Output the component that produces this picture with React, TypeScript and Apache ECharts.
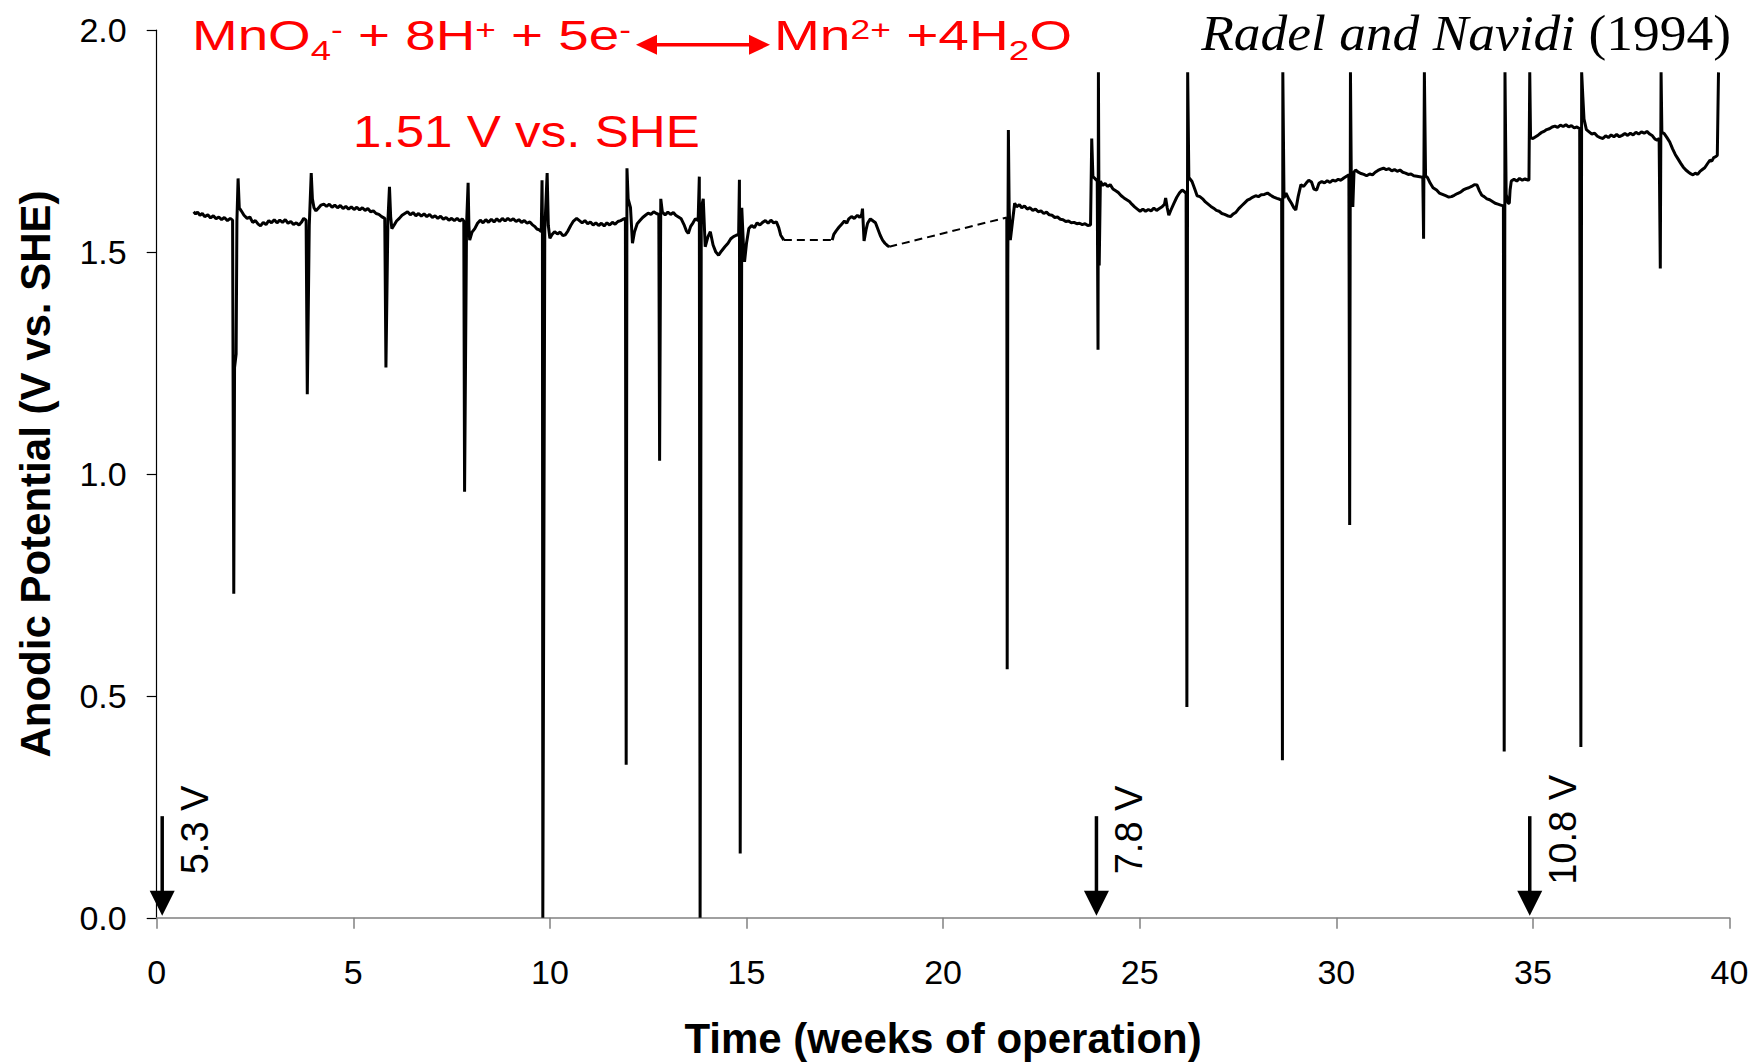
import React, { useEffect, useRef } from "react";
import * as echarts from "echarts";

// ---------------- data ----------------
const xTickValues = [0, 5, 10, 15, 20, 25, 30, 35, 40];
const yTickValues = [0, 0.5, 1.0, 1.5, 2.0];

// measured anodic potential, weeks 0.9 - 16
const phase1Trace: [number, number][] = [
  [0.94,1.591],[0.99,1.586],[1.04,1.59],[1.1,1.583],[1.16,1.587],[1.22,1.58],[1.3,1.584],[1.37,1.577],[1.44,1.582],[1.51,1.575],[1.58,1.579],[1.65,1.573],[1.72,1.578],[1.8,1.571],[1.87,1.576],[1.93,1.572],
  [1.96,0.73],[1.98,1.24],[2.02,1.27],[2.04,1.57],[2.07,1.666],[2.1,1.6],[2.15,1.593],[2.22,1.583],[2.3,1.576],[2.37,1.579],[2.44,1.567],[2.51,1.571],[2.58,1.563],[2.64,1.559],[2.71,1.567],[2.78,1.562],[2.85,1.571],[2.92,1.566],[2.99,1.573],[3.06,1.566],[3.13,1.572],[3.2,1.567],[3.27,1.573],[3.34,1.565],[3.41,1.569],[3.48,1.562],[3.55,1.566],[3.62,1.561],[3.68,1.567],[3.74,1.576],[3.8,1.572],
  [3.83,1.18],[3.88,1.56],[3.93,1.678],[3.96,1.62],[4.0,1.6],[4.05,1.593],[4.11,1.599],[4.18,1.606],[4.25,1.608],[4.32,1.603],[4.39,1.608],[4.46,1.601],[4.53,1.606],[4.6,1.6],[4.67,1.605],[4.74,1.598],[4.81,1.603],[4.88,1.597],[4.95,1.602],[5.02,1.596],[5.09,1.601],[5.16,1.595],[5.23,1.6],[5.3,1.594],[5.37,1.598],[5.44,1.591],[5.51,1.593],[5.58,1.587],[5.65,1.585],[5.72,1.58],[5.8,1.576],
  [5.83,1.24],[5.88,1.57],[5.92,1.647],[5.95,1.58],[5.98,1.553],[6.04,1.561],[6.1,1.57],[6.17,1.576],[6.24,1.583],[6.31,1.587],[6.38,1.591],[6.45,1.584],[6.52,1.589],[6.59,1.582],[6.66,1.587],[6.73,1.581],[6.8,1.586],[6.87,1.58],[6.94,1.585],[7.01,1.578],[7.08,1.582],[7.15,1.576],[7.22,1.581],[7.29,1.574],[7.36,1.578],[7.43,1.572],[7.5,1.576],[7.57,1.571],[7.64,1.576],[7.71,1.57],[7.77,1.575],[7.81,1.57],
  [7.83,0.96],[7.88,1.56],[7.92,1.656],[7.94,1.56],[7.96,1.527],[8.02,1.545],[8.09,1.553],[8.16,1.565],[8.23,1.572],[8.3,1.566],[8.37,1.573],[8.44,1.567],[8.51,1.574],[8.58,1.568],[8.65,1.575],[8.72,1.569],[8.79,1.576],[8.86,1.57],[8.93,1.576],[9.0,1.571],[9.07,1.575],[9.14,1.569],[9.21,1.573],[9.28,1.567],[9.35,1.571],[9.42,1.565],[9.49,1.568],[9.55,1.562],[9.61,1.558],[9.67,1.552],[9.73,1.55],[9.78,1.546],
  [9.8,1.662],[9.81,1.55],[9.82,0.0],[9.87,1.55],[9.93,1.678],[9.96,1.56],[10.0,1.531],[10.06,1.54],[10.12,1.546],[10.19,1.541],[10.26,1.545],[10.33,1.537],[10.39,1.539],[10.46,1.548],[10.53,1.56],[10.6,1.57],[10.68,1.576],[10.75,1.571],[10.82,1.566],[10.89,1.571],[10.96,1.564],[11.03,1.568],[11.1,1.561],[11.17,1.566],[11.24,1.56],[11.31,1.565],[11.38,1.559],[11.45,1.566],[11.52,1.561],[11.59,1.567],[11.66,1.563],[11.73,1.569],[11.8,1.571],[11.86,1.574],[11.92,1.576],
  [11.94,0.345],[11.96,1.689],[11.99,1.62],[12.05,1.6],[12.1,1.52],[12.15,1.545],[12.22,1.564],[12.29,1.571],[12.36,1.578],[12.43,1.583],[12.5,1.588],[12.57,1.585],[12.64,1.591],[12.71,1.587],[12.77,1.585],
  [12.79,1.03],[12.82,1.62],[12.86,1.59],[12.93,1.584],[13.0,1.59],[13.07,1.585],[13.14,1.589],[13.2,1.583],[13.27,1.579],[13.34,1.575],[13.41,1.562],[13.47,1.548],[13.52,1.542],[13.58,1.558],[13.64,1.566],[13.7,1.575],[13.77,1.571],
  [13.8,1.67],[13.82,0.0],[13.85,1.6],[13.9,1.62],[13.95,1.512],[14.02,1.535],[14.08,1.546],[14.15,1.516],[14.22,1.5],[14.29,1.493],[14.36,1.502],[14.45,1.512],[14.53,1.52],[14.6,1.53],[14.67,1.535],[14.74,1.538],[14.8,1.54],
  [14.82,1.663],[14.84,0.145],[14.88,1.6],[14.92,1.52],[14.95,1.478],[15.0,1.52],[15.06,1.553],[15.13,1.56],[15.2,1.555],[15.27,1.566],[15.34,1.561],[15.41,1.567],[15.48,1.571],[15.55,1.565],[15.62,1.572],[15.69,1.566],[15.76,1.568],[15.82,1.555],[15.87,1.538],[15.95,1.527],
];

// measured, weeks 17.2 - 18.6
const phase2Trace: [number, number][] = [
  [17.18,1.527],[17.22,1.54],[17.28,1.548],[17.35,1.556],[17.42,1.563],[17.49,1.57],[17.55,1.565],[17.6,1.575],[17.67,1.58],[17.74,1.576],[17.82,1.583],[17.88,1.578],[17.93,1.585],[17.95,1.598],[17.99,1.525],[18.04,1.55],[18.08,1.565],[18.15,1.575],[18.22,1.57],[18.28,1.566],[18.34,1.552],[18.4,1.538],[18.46,1.527],[18.52,1.52],[18.58,1.515],[18.63,1.512],
];

// measured, weeks 21.6 - 39.7
const phase3Trace: [number, number][] = [
  [21.62,1.578],[21.63,0.56],[21.645,1.45],[21.66,1.775],[21.68,1.6],[21.71,1.527],[21.76,1.565],[21.82,1.61],[21.87,1.602],[21.94,1.607],[22.0,1.6],[22.07,1.604],[22.14,1.597],[22.21,1.6],[22.28,1.594],[22.35,1.597],[22.42,1.591],[22.49,1.593],[22.56,1.587],[22.63,1.59],[22.7,1.584],[22.77,1.583],[22.84,1.578],[22.91,1.579],[22.98,1.574],[23.05,1.573],[23.12,1.569],[23.19,1.57],[23.26,1.566],[23.33,1.567],[23.4,1.564],[23.47,1.565],[23.54,1.562],[23.61,1.564],[23.68,1.56],[23.75,1.561],
  [23.78,1.756],[23.81,1.67],[23.86,1.666],[23.92,1.66],[23.94,1.28],[23.95,1.905],[23.97,1.47],[24.0,1.66],[24.06,1.65],[24.12,1.655],[24.18,1.648],[24.25,1.652],[24.32,1.642],[24.39,1.638],[24.46,1.634],[24.53,1.627],[24.6,1.622],[24.67,1.618],[24.74,1.614],[24.8,1.608],[24.87,1.602],[24.94,1.597],[25.01,1.592],[25.08,1.597],[25.15,1.592],[25.22,1.596],[25.29,1.593],[25.36,1.599],[25.43,1.594],[25.5,1.598],[25.57,1.602],[25.63,1.608],[25.66,1.622],[25.7,1.6],[25.74,1.583],[25.8,1.596],[25.87,1.61],[25.94,1.623],[26.01,1.633],[26.08,1.64],[26.14,1.636],[26.18,1.632],
  [26.2,0.475],[26.22,1.905],[26.25,1.668],[26.33,1.659],[26.4,1.642],[26.46,1.627],[26.53,1.625],[26.6,1.62],[26.67,1.613],[26.74,1.608],[26.81,1.603],[26.88,1.599],[26.95,1.594],[27.02,1.592],[27.09,1.587],[27.16,1.585],[27.23,1.582],[27.31,1.58],[27.38,1.586],[27.45,1.59],[27.52,1.598],[27.6,1.605],[27.67,1.611],[27.74,1.617],[27.81,1.62],[27.88,1.624],[27.95,1.627],[28.02,1.625],[28.09,1.629],[28.17,1.63],[28.25,1.633],[28.33,1.628],[28.41,1.624],[28.49,1.621],[28.56,1.619],[28.61,1.617],
  [28.63,0.355],[28.64,1.905],[28.67,1.622],[28.72,1.633],[28.79,1.62],[28.86,1.61],[28.92,1.6],[28.97,1.595],[29.03,1.625],[29.1,1.652],[29.17,1.648],[29.24,1.656],[29.3,1.662],[29.37,1.658],[29.43,1.642],[29.5,1.64],[29.56,1.655],[29.63,1.659],[29.7,1.656],[29.77,1.661],[29.84,1.657],[29.91,1.662],[29.98,1.66],[30.05,1.664],[30.12,1.662],[30.19,1.667],[30.26,1.671],[30.32,1.674],
  [30.34,0.885],[30.36,1.905],[30.38,1.68],[30.42,1.602],[30.45,1.68],[30.49,1.685],[30.56,1.68],[30.63,1.677],[30.7,1.675],[30.77,1.672],[30.85,1.676],[30.92,1.674],[30.99,1.68],[31.06,1.684],[31.13,1.687],[31.2,1.689],[31.27,1.686],[31.34,1.688],[31.41,1.683],[31.48,1.686],[31.55,1.682],[31.62,1.685],[31.69,1.68],[31.76,1.678],[31.83,1.675],[31.9,1.676],[31.97,1.672],[32.05,1.671],[32.12,1.67],[32.2,1.668],
  [32.22,1.53],[32.24,1.905],[32.27,1.672],[32.32,1.668],[32.39,1.655],[32.46,1.645],[32.55,1.64],[32.62,1.633],[32.7,1.63],[32.78,1.627],[32.86,1.624],[32.93,1.625],[33.0,1.628],[33.08,1.632],[33.16,1.635],[33.23,1.64],[33.3,1.643],[33.37,1.645],[33.44,1.648],[33.51,1.652],[33.58,1.651],[33.64,1.638],[33.7,1.628],[33.76,1.625],[33.83,1.62],[33.9,1.618],[33.97,1.614],[34.04,1.61],[34.11,1.608],[34.18,1.606],[34.25,1.604],
  [34.27,0.375],[34.29,1.905],[34.32,1.63],[34.37,1.61],[34.4,1.61],[34.42,1.64],[34.45,1.66],[34.52,1.664],[34.59,1.66],[34.66,1.666],[34.73,1.662],[34.8,1.665],[34.87,1.662],[34.9,1.663],
  [34.92,1.905],[34.94,1.758],[35.0,1.756],[35.07,1.76],[35.14,1.764],[35.21,1.769],[35.28,1.772],[35.35,1.776],[35.42,1.778],[35.49,1.782],[35.56,1.784],[35.63,1.781],[35.7,1.786],[35.77,1.783],[35.84,1.787],[35.91,1.782],[35.98,1.785],[36.05,1.78],[36.12,1.782],[36.19,1.778],
  [36.22,0.385],[36.24,1.905],[36.27,1.85],[36.3,1.8],[36.36,1.776],[36.43,1.771],[36.5,1.766],[36.57,1.768],[36.64,1.761],[36.71,1.758],[36.78,1.756],[36.85,1.762],[36.92,1.758],[36.99,1.764],[37.06,1.76],[37.13,1.765],[37.2,1.76],[37.27,1.763],[37.34,1.767],[37.41,1.763],[37.48,1.768],[37.55,1.764],[37.62,1.77],[37.69,1.766],[37.76,1.771],[37.83,1.768],[37.9,1.772],[37.97,1.766],[38.04,1.762],[38.1,1.755],[38.16,1.752],[38.21,1.756],
  [38.24,1.463],[38.26,1.905],[38.28,1.77],[38.34,1.767],[38.41,1.758],[38.48,1.748],[38.55,1.733],[38.62,1.72],[38.69,1.71],[38.76,1.7],[38.82,1.692],[38.89,1.685],[38.96,1.68],[39.02,1.676],[39.07,1.674],[39.13,1.678],[39.19,1.675],[39.25,1.682],[39.31,1.686],[39.37,1.69],[39.43,1.698],[39.5,1.707],[39.55,1.705],[39.6,1.713],[39.65,1.715],[39.69,1.718],[39.72,1.905],
];

// dashed bridges over periods without data
const gapBridge1: [number, number][] = [[15.95,1.527],[17.18,1.527]];
const gapBridge2: [number, number][] = [[18.63,1.512],[21.62,1.578]];

// applied voltage changes (arrows on the time axis)
const voltageWeeks = [0.14, 23.9, 34.92];
const voltageLabels = ["5.3 V", "7.8 V", "10.8 V"];
const arrowTopValue = 0.229;
const arrowLabelValue = 0.198;

// texts
const xAxisTitle = "Time (weeks of operation)";
const yAxisTitle = "Anodic Potential (V vs. SHE)";
const citationItalic = "Radel and Navidi ";
const citationYear = "(1994)";
const potentialNote = "1.51 V vs. SHE";
const eqLeftTokens = [
  { t: "MnO", r: "main" }, { t: "4", r: "sub" }, { t: "-", r: "sup" },
  { t: " + 8H", r: "main" }, { t: "+", r: "sup" },
  { t: " + 5e", r: "main" }, { t: "-", r: "sup" },
];
const eqRightTokens = [
  { t: "Mn", r: "main" }, { t: "2+", r: "sup" },
  { t: " +4H", r: "main" }, { t: "2", r: "sub" }, { t: "O", r: "main" },
];

// ---------------- rendering ----------------
const SANS = "'Liberation Sans', Arial, Helvetica, sans-serif";
const SERIF = "'Liberation Serif', 'Times New Roman', Times, serif";
const RED = "#FF0000";

let measureCtx: CanvasRenderingContext2D | null = null;
function measure(text: string, size: number, family: string, style = "normal", weight = "normal") {
  if (!measureCtx) measureCtx = document.createElement("canvas").getContext("2d");
  if (!measureCtx) return text.length * size * 0.55;
  measureCtx.font = `${style} ${weight} ${size}px ${family}`;
  return measureCtx.measureText(text).width;
}

const roleStyle: Record<string, { size: number; baseline: number }> = {
  main: { size: 42, baseline: 50 },
  sub: { size: 28, baseline: 60 },
  sup: { size: 27, baseline: 39.5 },
};

function buildEquationGroup(tokens: { t: string; r: string }[], originX: number, targetWidth: number) {
  let cursor = 0;
  const children: any[] = [];
  tokens.forEach((tk) => {
    const rs = roleStyle[tk.r];
    const w = measure(tk.t, rs.size, SANS);
    children.push({
      type: "text",
      x: cursor,
      y: rs.baseline - 0.3465 * rs.size,
      style: {
        text: tk.t,
        fill: RED,
        fontSize: rs.size,
        fontFamily: SANS,
        align: "left",
        verticalAlign: "middle",
      },
    });
    cursor += w;
  });
  const s = cursor > 0 ? targetWidth / cursor : 1;
  return { type: "group", x: originX, y: 0, scaleX: s, scaleY: 1, children };
}

function buildGraphics(chart: echarts.ECharts) {
  const g: any[] = [];
  // voltage arrows, placed in data coordinates
  voltageWeeks.forEach((wk, i) => {
    const top = chart.convertToPixel({ gridIndex: 0 }, [wk, arrowTopValue]) as number[];
    const base = chart.convertToPixel({ gridIndex: 0 }, [wk, 0]) as number[];
    const lbl = chart.convertToPixel({ gridIndex: 0 }, [wk, arrowLabelValue]) as number[];
    const px = top[0];
    const tip = base[1] - 2;
    const headLen = 25;
    const half = 12.5;
    g.push({
      type: "line",
      shape: { x1: px, y1: top[1], x2: px, y2: tip - headLen + 2 },
      style: { stroke: "#000", lineWidth: 3.5 },
      z: 100,
    });
    g.push({
      type: "polygon",
      shape: { points: [[px - half, tip - headLen], [px + half, tip - headLen], [px, tip]] },
      style: { fill: "#000" },
      z: 100,
    });
    g.push({
      type: "text",
      x: px + 33,
      y: lbl[1],
      rotation: Math.PI / 2,
      style: {
        text: voltageLabels[i],
        fill: "#000",
        fontSize: 38,
        fontFamily: SANS,
        align: "center",
        verticalAlign: "middle",
      },
      z: 100,
    });
  });

  // equation
  g.push(buildEquationGroup(eqLeftTokens, 192, 439));
  g.push(buildEquationGroup(eqRightTokens, 774, 298));
  // double-headed red arrow
  const ay = 44.8, ax1 = 636, ax2 = 770, hl = 21, hh = 10;
  g.push({ type: "line", shape: { x1: ax1 + hl - 2, y1: ay, x2: ax2 - hl + 2, y2: ay }, style: { stroke: RED, lineWidth: 3.5 } });
  g.push({ type: "polygon", shape: { points: [[ax1, ay], [ax1 + hl, ay - hh], [ax1 + hl, ay + hh]] }, style: { fill: RED } });
  g.push({ type: "polygon", shape: { points: [[ax2, ay], [ax2 - hl, ay - hh], [ax2 - hl, ay + hh]] }, style: { fill: RED } });

  // standard potential note
  const noteSize = 45;
  const noteW = measure(potentialNote, noteSize, SANS);
  g.push({
    type: "text",
    x: 353,
    y: 147 - 0.3465 * noteSize,
    scaleX: noteW > 0 ? 347 / noteW : 1,
    style: { text: potentialNote, fill: RED, fontSize: noteSize, fontFamily: SANS, align: "left", verticalAlign: "middle" },
  });

  // citation
  const citeSize = 51;
  const wYear = measure(citationYear, citeSize, SERIF);
  const wItal = measure(citationItalic, citeSize, SERIF, "italic");
  let cs = (wYear + wItal) > 0 ? 530 / (wYear + wItal) : 1;
  cs = Math.max(0.95, Math.min(1.12, cs));
  const cy = 50 - 0.3375 * citeSize;
  g.push({
    type: "group",
    x: 1731,
    y: 0,
    scaleX: cs,
    children: [
      { type: "text", x: 0, y: cy, style: { text: citationYear, fill: "#000", fontSize: citeSize, fontFamily: SERIF, align: "right", verticalAlign: "middle" } },
      { type: "text", x: -wYear, y: cy, style: { text: citationItalic, fill: "#000", fontSize: citeSize, fontFamily: SERIF, fontStyle: "italic", align: "right", verticalAlign: "middle" } },
    ],
  });
  return g;
}

function buildOption(): any {
  const lineBase = {
    type: "line",
    showSymbol: false,
    symbol: "none",
    smooth: false,
    silent: true,
    lineStyle: { color: "#000", width: 3 },
    itemStyle: { color: "#000" },
    z: 10,
  };
  const dashBase = {
    type: "line",
    showSymbol: false,
    symbol: "none",
    silent: true,
    lineStyle: { color: "#000", width: 2, type: [8, 5] },
    itemStyle: { color: "#000" },
    z: 9,
  };
  return {
    animation: false,
    backgroundColor: "#fff",
    grid: { left: 156.7, right: 25.5, top: 30.2, bottom: 144.2, containLabel: false, outerBoundsMode: "none" },
    xAxis: {
      type: "value",
      min: xTickValues[0],
      max: xTickValues[xTickValues.length - 1],
      interval: xTickValues[1] - xTickValues[0],
      axisLine: { show: true, onZero: false, lineStyle: { color: "#808080", width: 1.5 } },
      axisTick: { show: true, length: 11, lineStyle: { color: "#808080", width: 1.5 } },
      axisLabel: { margin: 37, fontSize: 34, color: "#000", fontFamily: SANS, formatter: (v: number) => String(Math.round(v)) },
      splitLine: { show: false },
      name: xAxisTitle,
      nameLocation: "middle",
      nameGap: 100,
      nameTextStyle: { fontSize: 42, fontWeight: "bold", color: "#000", fontFamily: SANS },
    },
    yAxis: {
      type: "value",
      min: yTickValues[0],
      max: yTickValues[yTickValues.length - 1],
      interval: yTickValues[1] - yTickValues[0],
      axisLine: { show: true, onZero: false, lineStyle: { color: "#000", width: 1.2 } },
      axisTick: { show: true, length: 10, lineStyle: { color: "#000", width: 1.2 } },
      axisLabel: { margin: 30, fontSize: 34, color: "#000", fontFamily: SANS, formatter: (v: number) => v.toFixed(1) },
      splitLine: { show: false },
      name: yAxisTitle,
      nameLocation: "middle",
      nameGap: 100,
      nameTextStyle: { fontSize: 42, fontWeight: "bold", color: "#000", fontFamily: SANS },
    },
    series: [
      { ...lineBase, name: "weeks 1-16", data: phase1Trace },
      { ...lineBase, name: "weeks 17-19", data: phase2Trace },
      { ...lineBase, name: "weeks 22-40", data: phase3Trace },
      { ...dashBase, name: "gap 1", data: gapBridge1 },
      { ...dashBase, name: "gap 2", data: gapBridge2 },
    ],
  };
}

export default function App() {
  const ref = useRef<HTMLDivElement>(null);
  useEffect(() => {
    if (!ref.current) return;
    const chart = echarts.init(ref.current, null, { renderer: "svg" });
    chart.setOption(buildOption());
    chart.setOption({ graphic: buildGraphics(chart) });
    return () => chart.dispose();
  }, []);
  return (
    <div
      ref={ref}
      style={{ position: "absolute", left: 0, top: 0, width: 1755, height: 1062, background: "#fff" }}
    />
  );
}
